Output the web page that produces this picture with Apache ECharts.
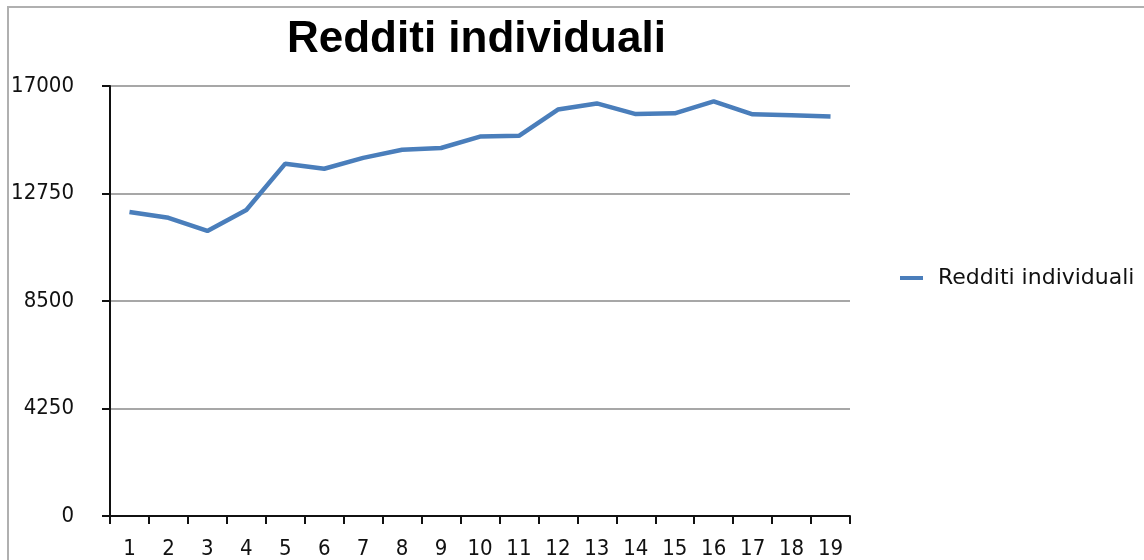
<!DOCTYPE html>
<html>
<head>
<meta charset="utf-8">
<script src="https://cdn.jsdelivr.net/npm/echarts@6/dist/echarts.min.js"></script>
<style>
html,body{margin:0;padding:0;background:#fff;}
#chart{width:1144px;height:560px;}
</style>
</head>
<body>
<div id="chart"></div>
<script>
const categories = ['1','2','3','4','5','6','7','8','9','10','11','12','13','14','15','16','17','18','19'];
const redditi = [12020, 11790, 11270, 12100, 13930, 13730, 14160, 14480, 14550, 15000, 15030, 16070, 16310, 15890, 15920, 16390, 15880, 15840, 15790];
const yTicks = [0, 4250, 8500, 12750, 17000];

const chart = echarts.init(document.getElementById('chart'), null, {renderer: 'canvas'});
const axisFont = '"DejaVu Sans Condensed", "DejaVu Sans", sans-serif';
chart.setOption({
  animation: false,
  backgroundColor: '#ffffff',
  title: {
    text: 'Redditi individuali',
    left: 287,
    top: 18,
    padding: 0,
    textStyle: {fontFamily: '"Liberation Sans", Arial, sans-serif', fontWeight: 'bold', fontSize: 44, color: '#000'}
  },
  graphic: [{
    type: 'rect',
    shape: {x: 8, y: 7, width: 1300, height: 700},
    style: {fill: 'none', stroke: '#b0b0b0', lineWidth: 2},
    silent: true
  }],
  legend: {
    left: 900,
    top: 267,
    padding: 0,
    icon: 'rect',
    itemWidth: 23,
    itemHeight: 4,
    textStyle: {fontFamily: '"DejaVu Sans", sans-serif', fontSize: 22, color: '#111', padding: [0, 0, 0, 10]},
    data: ['Redditi individuali']
  },
  grid: {left: 110, right: 294, top: 86, bottom: 39, containLabel: false},
  xAxis: {
    type: 'category',
    data: categories,
    boundaryGap: true,
    axisLine: {show: true, onZero: false, lineStyle: {color: '#111', width: 2}},
    axisTick: {show: true, alignWithLabel: false, length: 8, lineStyle: {color: '#111', width: 2}},
    axisLabel: {margin: 22, fontFamily: axisFont, fontSize: 22, color: '#111'},
    splitLine: {show: false}
  },
  yAxis: {
    type: 'value',
    min: 0,
    max: 17000,
    interval: 4250,
    axisLine: {show: true, lineStyle: {color: '#111', width: 2}},
    axisTick: {show: true, length: 8, lineStyle: {color: '#111', width: 2}},
    axisLabel: {
      margin: 36,
      fontFamily: axisFont,
      fontSize: 22,
      color: '#111',
      formatter: v => yTicks.includes(v) ? String(v) : ''
    },
    splitLine: {show: true, lineStyle: {color: '#8a8a8a', width: 1.5}}
  },
  series: [{
    name: 'Redditi individuali',
    type: 'line',
    data: redditi,
    symbol: 'none',
    smooth: false,
    color: '#4a7ebb',
    lineStyle: {color: '#4a7ebb', width: 4.5}
  }]
});
</script>
</body>
</html>
